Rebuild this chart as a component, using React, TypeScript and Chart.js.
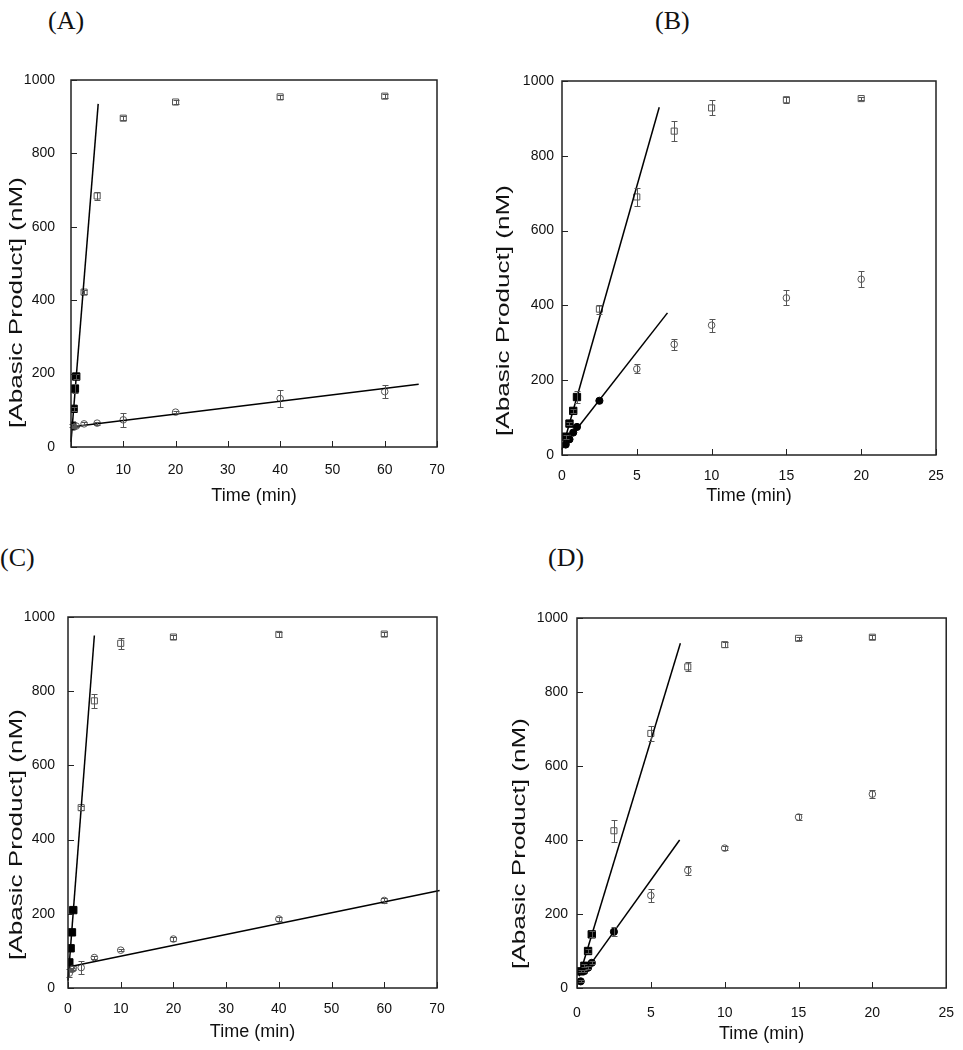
import React, { useEffect, useRef } from "react";
import { Chart, registerables } from "chart.js";
Chart.register(...registerables);

const FONT = "'Liberation Sans', Arial, Helvetica, sans-serif";
const SERIF = "'Liberation Serif', 'Times New Roman', serif";

// ---------- shared tick labels ----------
const Y_TICKS = [0, 200, 400, 600, 800, 1000];
const X_TICKS_LONG = [0, 10, 20, 30, 40, 50, 60, 70];
const X_TICKS_SHORT = [0, 5, 10, 15, 20, 25];
const Y_TITLE = "[Abasic Product] (nM)";
const X_TITLE = "Time (min)";

// ---------- Panel A ----------
const A_SQ_OPEN_X = [2.5, 5, 10, 20, 40, 60];
const A_SQ_OPEN_Y = [422, 684, 896, 940, 954, 956];
const A_SQ_OPEN_E = [5, 12, 6, 6, 5, 5];
const A_SQ_FILL_X = [0.25, 0.5, 0.75, 1];
const A_SQ_FILL_Y = [58, 104, 159, 192];
const A_SQ_FILL_E = [4, 5, 12, 6];
const A_CI_OPEN_X = [0.5, 1, 2.5, 5, 10, 20, 40, 60];
const A_CI_OPEN_Y = [54, 57, 63, 65, 74, 95, 132, 151];
const A_CI_OPEN_E = [3, 3, 4, 4, 20, 3, 22, 18];
const A_FIT1_X = [0, 5.2];
const A_FIT1_Y = [14, 935];
const A_FIT2_X = [0.25, 66.5];
const A_FIT2_Y = [55, 171];

// ---------- Panel B ----------
const B_SQ_OPEN_X = [2.5, 5, 7.5, 10, 15, 20];
const B_SQ_OPEN_Y = [390, 690, 866, 928, 950, 953];
const B_SQ_OPEN_E = [12, 25, 27, 20, 8, 5];
const B_SQ_FILL_X = [0.25, 0.5, 0.75, 1];
const B_SQ_FILL_Y = [49, 84, 118, 155];
const B_SQ_FILL_E = [5, 5, 6, 15];
const B_CI_FILL_X = [0.25, 0.5, 0.75, 1, 2.5];
const B_CI_FILL_Y = [28, 42, 60, 75, 145];
const B_CI_OPEN_X = [5, 7.5, 10, 15, 20];
const B_CI_OPEN_Y = [230, 296, 347, 420, 470];
const B_CI_OPEN_E = [12, 15, 17, 20, 22];
const B_FIT1_X = [0, 6.5];
const B_FIT1_Y = [14, 930];
const B_FIT2_X = [1, 7.05];
const B_FIT2_Y = [70, 380];

// ---------- Panel C ----------
const C_SQ_OPEN_X = [2.5, 5, 10, 20, 40, 60];
const C_SQ_OPEN_Y = [486, 774, 929, 946, 953, 954];
const C_SQ_OPEN_E = [5, 18, 15, 5, 6, 6];
const C_SQ_FILL_X = [0.25, 0.5, 0.75, 1];
const C_SQ_FILL_Y = [69, 107, 150, 210];
const C_CI_OPEN_X = [0.25, 0.75, 1, 2.5, 5, 10, 20, 40, 60];
const C_CI_OPEN_Y = [40, 50, 53, 55, 82, 102, 132, 186, 236];
const C_CI_OPEN_E = [10, 5, 5, 17, 5, 3, 6, 5, 7];
const C_FIT1_X = [0, 5];
const C_FIT1_Y = [20, 950];
const C_FIT2_X = [0.5, 70.5];
const C_FIT2_Y = [58, 263];

// ---------- Panel D ----------
const D_SQ_OPEN_X = [2.5, 5, 7.5, 10, 15, 20];
const D_SQ_OPEN_Y = [425, 688, 868, 928, 945, 948];
const D_SQ_OPEN_E = [30, 20, 12, 6, 5, 5];
const D_SQ_FILL_X = [0.25, 0.5, 0.75, 1];
const D_SQ_FILL_Y = [45, 60, 100, 145];
const D_SQ_FILL_E = [3, 4, 5, 8];
const D_CI_FILL_X = [0.25, 0.5, 0.75, 1, 2.5];
const D_CI_FILL_Y = [18, 46, 55, 68, 152];
const D_CI_FILL_E = [3, 4, 4, 4, 12];
const D_CI_OPEN_X = [5, 7.5, 10, 15, 20];
const D_CI_OPEN_Y = [250, 318, 378, 462, 524];
const D_CI_OPEN_E = [18, 12, 5, 8, 10];
const D_FIT1_X = [0.15, 7];
const D_FIT1_Y = [32, 932];
const D_FIT2_X = [0.75, 6.95];
const D_FIT2_Y = [55, 400];

const pts = (xs: number[], ys: number[]) => xs.map((x, i) => ({ x, y: ys[i] }));

const openSquares = (xs: number[], ys: number[], e?: number[]) => ({
  data: pts(xs, ys), yErr: e, pointStyle: "rect", pointRadius: 4.3, pointHoverRadius: 4.3,
  borderColor: "#555", backgroundColor: "rgba(0,0,0,0)", borderWidth: 1, showLine: false,
});
const openCircles = (xs: number[], ys: number[], e?: number[]) => ({
  data: pts(xs, ys), yErr: e, pointStyle: "circle", pointRadius: 3.3, pointHoverRadius: 3.3,
  borderColor: "#555", backgroundColor: "rgba(0,0,0,0)", borderWidth: 1, showLine: false,
});
const filledSquares = (xs: number[], ys: number[], e?: number[]) => ({
  data: pts(xs, ys), yErr: e, pointStyle: "rect", pointRadius: 5.2, pointHoverRadius: 5.2,
  borderColor: "#000", backgroundColor: "#000", borderWidth: 1, showLine: false,
});
const filledCircles = (xs: number[], ys: number[], e?: number[]) => ({
  data: pts(xs, ys), yErr: e, pointStyle: "circle", pointRadius: 3.6, pointHoverRadius: 3.6,
  borderColor: "#000", backgroundColor: "#000", borderWidth: 1, showLine: false,
});
const fitLine = (xs: number[], ys: number[]) => ({
  data: pts(xs, ys), showLine: true, pointRadius: 0, pointHoverRadius: 0,
  borderColor: "#000", borderWidth: 1.5, backgroundColor: "#000", clip: false,
});

const errorBarPlugin = {
  id: "errorBars",
  afterDatasetsDraw(chart: any) {
    const ctx = chart.ctx;
    const ys = chart.scales.y;
    chart.data.datasets.forEach((ds: any, i: number) => {
      if (!ds.yErr) return;
      const meta = chart.getDatasetMeta(i);
      ctx.save();
      ctx.strokeStyle = "#555";
      ctx.lineWidth = 1;
      meta.data.forEach((pt: any, j: number) => {
        const e = ds.yErr[j];
        if (!e) return;
        const v = ds.data[j].y;
        const yt = Math.round(ys.getPixelForValue(v + e)) + 0.5;
        const yb = Math.round(ys.getPixelForValue(v - e)) + 0.5;
        const x = Math.round(pt.x) + 0.5;
        ctx.beginPath();
        ctx.moveTo(x, yt); ctx.lineTo(x, yb);
        ctx.moveTo(x - 3, yt); ctx.lineTo(x + 3, yt);
        ctx.moveTo(x - 3, yb); ctx.lineTo(x + 3, yb);
        ctx.stroke();
      });
      ctx.restore();
    });
  },
};

const framePlugin = {
  id: "frame",
  afterDraw(chart: any) {
    const { ctx, chartArea } = chart;
    const { left, right, top, bottom } = chartArea;
    ctx.save();
    ctx.strokeStyle = "#222";
    ctx.lineWidth = 1.5;
    ctx.strokeRect(left, top, right - left, bottom - top);
    ctx.lineWidth = 1;
    const xs = chart.scales.x;
    const ysc = chart.scales.y;
    ctx.beginPath();
    xs.ticks.forEach((t: any) => {
      const px = Math.round(xs.getPixelForValue(t.value)) + 0.5;
      ctx.moveTo(px, bottom); ctx.lineTo(px, bottom - 6);
    });
    ysc.ticks.forEach((t: any) => {
      const py = Math.round(ysc.getPixelForValue(t.value)) + 0.5;
      ctx.moveTo(left, py); ctx.lineTo(left + 6, py);
    });
    ctx.stroke();
    ctx.restore();
  },
};

// y-axis title (the original figure's rotated label is stretched along its length)
const makeYTitlePlugin = (x: number, yStart: number, stretch: number) => ({
  id: "yTitle",
  afterDraw(chart: any) {
    const ctx = chart.ctx;
    ctx.save();
    ctx.translate(x, yStart);
    ctx.rotate(-Math.PI / 2);
    ctx.scale(stretch, 1);
    ctx.font = `18px ${FONT}`;
    ctx.fillStyle = "#111";
    ctx.textAlign = "left";
    ctx.textBaseline = "middle";
    ctx.fillText(Y_TITLE, 0, 0);
    ctx.restore();
  },
});

type PanelCfg = {
  label: string; labelLeft: number; labelTop: number;
  left: number; top: number; width: number; height: number;
  yAxisW: number; xAxisH: number; padTop: number; padRight: number;
  xMax: number; xTicks: number[];
  yTitleX: number; yTitleStart: number; xTitlePad: number; yTickPad: number; xTickPad: number;
  datasets: any[];
};

const PANELS: PanelCfg[] = [
  {
    label: "(A)", labelLeft: 48, labelTop: 6,
    left: 0, top: 60, width: 470, height: 450, yAxisW: 71, xAxisH: 63, padTop: 20, padRight: 33,
    xMax: 70, xTicks: X_TICKS_LONG, yTitleX: 17, yTitleStart: 368, xTitlePad: 3, yTickPad: 8, xTickPad: 7,
    datasets: [
      fitLine(A_FIT1_X, A_FIT1_Y), fitLine(A_FIT2_X, A_FIT2_Y),
      openSquares(A_SQ_OPEN_X, A_SQ_OPEN_Y, A_SQ_OPEN_E),
      openCircles(A_CI_OPEN_X, A_CI_OPEN_Y, A_CI_OPEN_E),
      filledSquares(A_SQ_FILL_X, A_SQ_FILL_Y, A_SQ_FILL_E),
    ],
  },
  {
    label: "(B)", labelLeft: 655, labelTop: 6,
    left: 480, top: 60, width: 483, height: 450, yAxisW: 82, xAxisH: 55, padTop: 21, padRight: 27,
    xMax: 25, xTicks: X_TICKS_SHORT, yTitleX: 24, yTitleStart: 376, xTitlePad: 3, yTickPad: 0, xTickPad: 5,
    datasets: [
      fitLine(B_FIT1_X, B_FIT1_Y), fitLine(B_FIT2_X, B_FIT2_Y),
      openSquares(B_SQ_OPEN_X, B_SQ_OPEN_Y, B_SQ_OPEN_E),
      openCircles(B_CI_OPEN_X, B_CI_OPEN_Y, B_CI_OPEN_E),
      filledSquares(B_SQ_FILL_X, B_SQ_FILL_Y, B_SQ_FILL_E),
      filledCircles(B_CI_FILL_X, B_CI_FILL_Y),
    ],
  },
  {
    label: "(C)", labelLeft: 0, labelTop: 543,
    left: 0, top: 590, width: 470, height: 460, yAxisW: 68, xAxisH: 62, padTop: 27, padRight: 33,
    xMax: 70, xTicks: X_TICKS_LONG, yTitleX: 17, yTitleStart: 370, xTitlePad: 7, yTickPad: 5, xTickPad: 5,
    datasets: [
      fitLine(C_FIT1_X, C_FIT1_Y), fitLine(C_FIT2_X, C_FIT2_Y),
      openSquares(C_SQ_OPEN_X, C_SQ_OPEN_Y, C_SQ_OPEN_E),
      openCircles(C_CI_OPEN_X, C_CI_OPEN_Y, C_CI_OPEN_E),
      filledSquares(C_SQ_FILL_X, C_SQ_FILL_Y),
    ],
  },
  {
    label: "(D)", labelLeft: 548, labelTop: 543,
    left: 480, top: 590, width: 483, height: 460, yAxisW: 97, xAxisH: 62, padTop: 28, padRight: 14,
    xMax: 25, xTicks: X_TICKS_SHORT, yTitleX: 40, yTitleStart: 379, xTitlePad: 5, yTickPad: 1, xTickPad: 9,
    datasets: [
      fitLine(D_FIT1_X, D_FIT1_Y), fitLine(D_FIT2_X, D_FIT2_Y),
      openSquares(D_SQ_OPEN_X, D_SQ_OPEN_Y, D_SQ_OPEN_E),
      openCircles(D_CI_OPEN_X, D_CI_OPEN_Y, D_CI_OPEN_E),
      filledSquares(D_SQ_FILL_X, D_SQ_FILL_Y, D_SQ_FILL_E),
      filledCircles(D_CI_FILL_X, D_CI_FILL_Y, D_CI_FILL_E),
    ],
  },
];

function Panel({ cfg }: { cfg: PanelCfg }) {
  const ref = useRef<HTMLCanvasElement>(null);
  useEffect(() => {
    if (!ref.current) return;
    const chart = new Chart(ref.current, {
      type: "scatter",
      data: { datasets: cfg.datasets },
      plugins: [errorBarPlugin, framePlugin, makeYTitlePlugin(cfg.yTitleX, cfg.yTitleStart, 1.45)],
      options: {
        responsive: false,
        animation: false,
        devicePixelRatio: 1,
        layout: { padding: { left: 0, top: cfg.padTop, right: cfg.padRight, bottom: 0 } },
        plugins: { legend: { display: false }, tooltip: { enabled: false } },
        scales: {
          x: {
            type: "linear", min: 0, max: cfg.xMax,
            grid: { display: false }, border: { display: false },
            afterBuildTicks: (s: any) => { s.ticks = cfg.xTicks.map((v) => ({ value: v })); },
            afterFit: (s: any) => { s.height = cfg.xAxisH; },
            ticks: { color: "#111", padding: cfg.xTickPad, font: { family: FONT, size: 14 }, maxRotation: 0, callback: (v: any) => String(v) },
            title: { display: true, text: X_TITLE, color: "#111", font: { family: FONT, size: 18 }, padding: { top: cfg.xTitlePad, bottom: cfg.xTitlePad } },
          },
          y: {
            type: "linear", min: 0, max: 1000,
            grid: { display: false }, border: { display: false },
            afterBuildTicks: (s: any) => { s.ticks = Y_TICKS.map((v) => ({ value: v })); },
            afterFit: (s: any) => { s.width = cfg.yAxisW; },
            ticks: { color: "#111", padding: cfg.yTickPad, font: { family: FONT, size: 14 }, callback: (v: any) => String(v) },
            title: { display: false, text: Y_TITLE },
          },
        },
      } as any,
    });
    return () => chart.destroy();
  }, [cfg]);
  return (
    <>
      <div style={{ position: "absolute", left: cfg.labelLeft, top: cfg.labelTop, fontFamily: SERIF, fontSize: 26, lineHeight: "30px", color: "#111" }}>
        {cfg.label}
      </div>
      <canvas ref={ref} width={cfg.width} height={cfg.height}
        style={{ position: "absolute", left: cfg.left, top: cfg.top, width: cfg.width, height: cfg.height }} />
    </>
  );
}

export default function App() {
  return (
    <div style={{ position: "absolute", left: 0, top: 0, width: 963, height: 1050, background: "#fff", overflow: "hidden" }}>
      {PANELS.map((p) => <Panel key={p.label} cfg={p} />)}
    </div>
  );
}
